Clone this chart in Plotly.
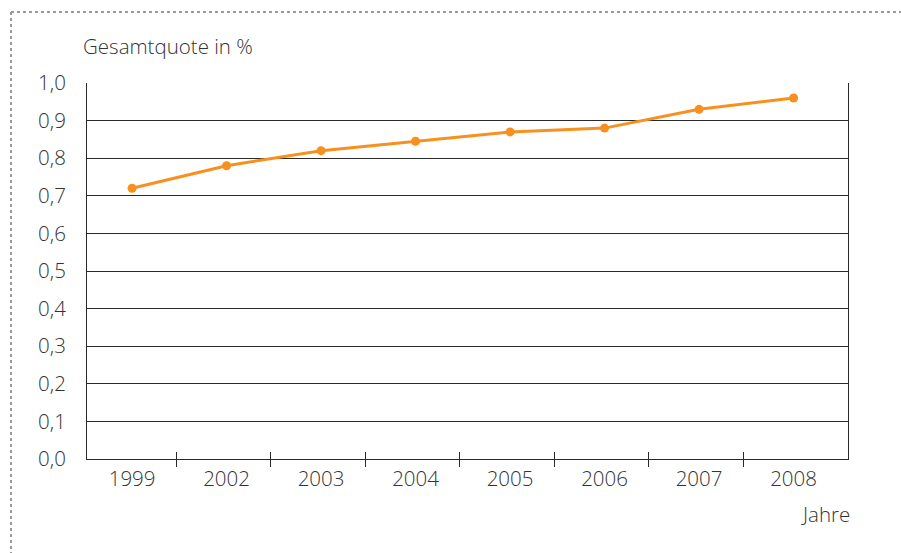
import plotly.graph_objects as go

years = ["1999", "2002", "2003", "2004", "2005", "2006", "2007", "2008"]
quote = [0.72, 0.78, 0.82, 0.845, 0.87, 0.88, 0.93, 0.96]
y_ticks = [0.0, 0.1, 0.2, 0.3, 0.4, 0.5, 0.6, 0.7, 0.8, 0.9, 1.0]

W, H = 901, 553
ML, MR, MT, MB = 87, 53, 83, 94
PW, PH = W - ML - MR, H - MT - MB

xpos = list(range(len(years)))
boundaries = [i + 0.47 for i in xpos[:-1]]
xrange_ = [-0.477, 7.576]

FONT = "Open Sans"
TXT = "#333333"
AX = "#2a2a2a"
ORANGE = "#F7901E"
FS = 20.5

fig = go.Figure()
fig.add_trace(go.Scatter(
    x=xpos, y=quote, mode="lines+markers",
    line=dict(color=ORANGE, width=3),
    marker=dict(color=ORANGE, size=9),
    hoverinfo="skip", showlegend=False,
))
fig.add_trace(go.Scatter(
    x=xpos, y=quote, xaxis="x2", mode="lines", opacity=0,
    hoverinfo="skip", showlegend=False,
))

def px_x(p):
    return (p - ML) / PW

def px_y(p):
    return (H - MB - p) / PH

dot = dict(color="#9a9a9a", width=2, dash="dot")
fig.add_shape(type="line", xref="paper", yref="paper",
              x0=px_x(11), x1=px_x(W), y0=px_y(12), y1=px_y(12), line=dot)
fig.add_shape(type="line", xref="paper", yref="paper",
              x0=px_x(11), x1=px_x(11), y0=px_y(12), y1=px_y(H), line=dot)

tf = dict(family=FONT, size=FS, color=TXT, weight=300)

fig.add_annotation(text="Gesamtquote in %", xref="paper", yref="paper",
                   x=px_x(81), y=px_y(46), xanchor="left", yanchor="middle",
                   showarrow=False, font=tf)
fig.add_annotation(text="Jahre", xref="paper", yref="paper",
                   x=px_x(852), y=px_y(514), xanchor="right", yanchor="middle",
                   showarrow=False, font=tf)

fig.update_layout(
    width=W, height=H,
    margin=dict(l=ML, r=MR, t=MT, b=MB, pad=0),
    paper_bgcolor="white", plot_bgcolor="white",
    separators=",.",
    font=tf,
    xaxis=dict(
        range=xrange_, tickmode="array", tickvals=xpos, ticktext=years,
        ticks="", showgrid=False, zeroline=False,
        showline=True, linecolor=AX, linewidth=1, mirror=False,
        tickfont=tf, ticklabelstandoff=1,
        minor=dict(tickmode="array", tickvals=boundaries, ticks="outside",
                   ticklen=7, tickwidth=1, tickcolor=AX, showgrid=False),
    ),
    xaxis2=dict(
        range=xrange_, overlaying="x", side="bottom", anchor="y",
        tickmode="array", tickvals=boundaries, ticks="inside", ticklen=7,
        tickwidth=1, tickcolor=AX, showticklabels=False, showgrid=False,
        zeroline=False, showline=False,
    ),
    yaxis=dict(
        range=[0, 1.0], tickmode="array", tickvals=y_ticks, tickformat=".1f",
        showgrid=True, gridcolor=AX, gridwidth=1, zeroline=False,
        showline=True, linecolor=AX, linewidth=1, mirror=True,
        ticks="", ticklabelstandoff=16,
        tickfont=tf,
    ),
)

fig.write_html("out.html", config={"displayModeBar": False},
               post_script="document.body.style.margin='0px';")
